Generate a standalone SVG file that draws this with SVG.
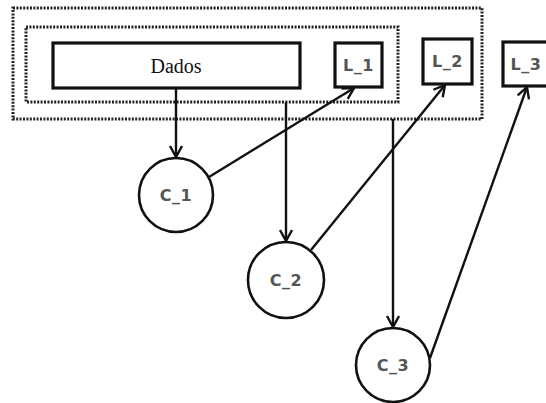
<svg xmlns="http://www.w3.org/2000/svg" width="546" height="403" viewBox="0 0 546 403">
  <style>
    .dot { fill: none; stroke: #222; stroke-width: 3; stroke-dasharray: 2 1.4; }
    .box { fill: #fff; stroke: #111; stroke-width: 3.2; }
    .circ { fill: #fff; stroke: #111; stroke-width: 2.6; }
    .lbl { font-family: "DejaVu Sans", "Noto Sans", sans-serif; font-size: 16px; font-weight: bold; fill: #555; text-anchor: middle; dominant-baseline: central; letter-spacing: 0.5px; }
    .serif { font-family: "Liberation Serif", serif; font-size: 20px; fill: #111; text-anchor: middle; dominant-baseline: central; }
    .edge { fill: none; stroke: #111; stroke-width: 2.4; marker-end: url(#arr); }
  </style>
  <defs>
    <marker id="arr" markerUnits="userSpaceOnUse" markerWidth="16" markerHeight="16" refX="13" refY="7" orient="auto">
      <path d="M2,1 L13,7 L2,13" fill="none" stroke="#111" stroke-width="2.4"/>
    </marker>
  </defs>
  <rect width="546" height="403" fill="#fff"/>

  <!-- grouping frames -->
  <g id="frames">
    <rect class="dot" x="13" y="8" width="469" height="111"/>
    <rect class="dot" x="26" y="27" width="372" height="75"/>
  </g>

  <g id="dados">
    <rect class="box" x="53" y="43" width="247" height="45"/>
    <text class="serif" x="176" y="66">Dados</text>
  </g>

  <g id="L_1">
    <rect class="box" x="335" y="43" width="47" height="44"/>
    <text class="lbl" x="358.5" y="65">L_1</text>
  </g>
  <g id="L_2">
    <rect class="box" x="423" y="39" width="49" height="45"/>
    <text class="lbl" x="447.5" y="61">L_2</text>
  </g>
  <g id="L_3">
    <rect class="box" x="503" y="42" width="46" height="44"/>
    <text class="lbl" x="526" y="64">L_3</text>
  </g>

  <g id="C_1">
    <circle class="circ" cx="176" cy="195" r="37"/>
    <text class="lbl" x="176" y="195">C_1</text>
  </g>
  <g id="C_2">
    <circle class="circ" cx="286" cy="280" r="38"/>
    <text class="lbl" x="286" y="280">C_2</text>
  </g>
  <g id="C_3">
    <circle class="circ" cx="393" cy="365" r="37"/>
    <text class="lbl" x="393" y="365">C_3</text>
  </g>

  <g id="connectors">
    <line class="edge" x1="176" y1="88" x2="176" y2="157"/>
    <line class="edge" x1="209" y1="177" x2="354" y2="88"/>
    <line class="edge" x1="286" y1="102" x2="286" y2="241"/>
    <line class="edge" x1="311" y1="250" x2="445" y2="85"/>
    <line class="edge" x1="393" y1="119" x2="393" y2="327"/>
    <line class="edge" x1="430" y1="358" x2="527" y2="87"/>
  </g>
</svg>
